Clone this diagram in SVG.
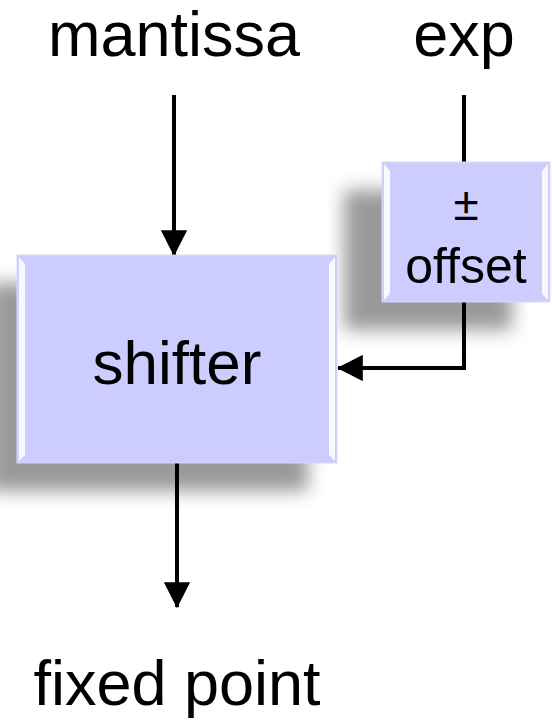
<svg xmlns="http://www.w3.org/2000/svg" width="552" height="723" viewBox="0 0 552 723">
  <style>
    text { font-family: "Liberation Sans", Arial, sans-serif; fill: #000; text-anchor: middle; }
    .wire { stroke: #000; stroke-width: 4; fill: none; }
    .box { fill: #CCCCFF; stroke: #D8D8F8; stroke-width: 1; }
    .bevel { fill: #FFFFFF; opacity: 0.85; }
  </style>
  <defs>
    <filter id="soft" x="-30%" y="-30%" width="160%" height="160%">
      <feGaussianBlur stdDeviation="9"/>
    </filter>
    <marker id="head" markerWidth="6.5" markerHeight="6.6" refX="6.2" refY="3.3" orient="auto" markerUnits="strokeWidth">
      <path d="M0,0 L6.5,3.3 L0,6.6 Z" fill="#000"/>
    </marker>
  </defs>

  <!-- drop shadows -->
  <rect x="-12" y="283" width="320" height="208" fill="#888" filter="url(#soft)" opacity="0.85"/>
  <rect x="344" y="190" width="168" height="140" fill="#888" filter="url(#soft)" opacity="0.85"/>

  <!-- labels -->
  <text x="174" y="56" font-size="63">mantissa</text>
  <text x="464" y="56" font-size="63">exp</text>
  <text x="177" y="705" font-size="63">fixed point</text>

  <!-- connectors -->
  <g id="connectors">
    <line class="wire" x1="174" y1="95" x2="174" y2="255" marker-end="url(#head)"/>
    <line class="wire" x1="464" y1="95" x2="464" y2="162"/>
    <polyline class="wire" points="464,302 464,368 338,368" marker-end="url(#head)"/>
    <line class="wire" x1="177" y1="463" x2="177" y2="607" marker-end="url(#head)"/>
  </g>

  <g id="shifter">
    <rect class="box" x="17" y="255" width="320" height="208"/>
    <polygon class="bevel" points="19,257 25,264 25,455 19,461"/>
    <polygon class="bevel" points="335,257 329,264 329,455 335,461"/>
    <text x="177" y="384" font-size="62">shifter</text>
  </g>

  <g id="offset">
    <rect class="box" x="382" y="162" width="168" height="140"/>
    <polygon class="bevel" points="384,164 390,171 390,294 384,300"/>
    <polygon class="bevel" points="548,164 542,171 542,294 548,300"/>
    <text x="466" y="220" font-size="46">±</text>
    <text x="466" y="283" font-size="50">offset</text>
  </g>
</svg>
